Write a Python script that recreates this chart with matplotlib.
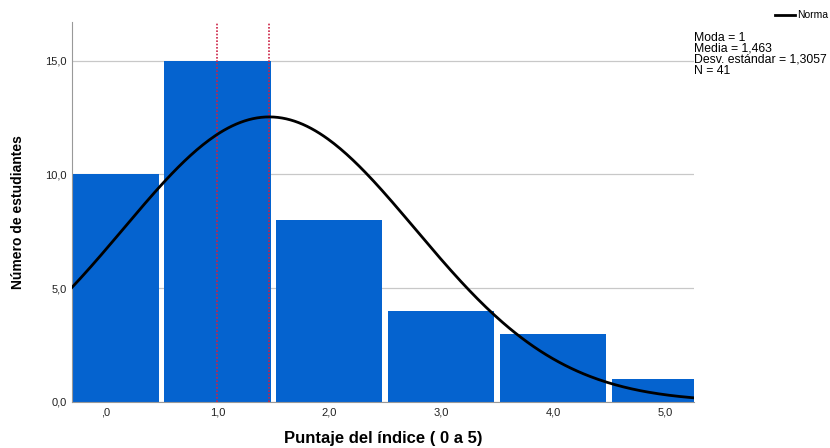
import numpy as np
import matplotlib.pyplot as plt

# histogram data (puntaje 0..5)
scores = [0, 1, 2, 3, 4, 5]
counts = [10, 15, 8, 4, 3, 1]
moda = 1
media = 1.463
desv = 1.3057
n = 41

xticks = [0, 1, 2, 3, 4, 5]
xtick_labels = [",0", "1,0", "2,0", "3,0", "4,0", "5,0"]
yticks = [0, 5, 10, 15]
ytick_labels = ["0,0", "5,0", "10,0", "15,0"]

plt.rcParams['font.family'] = ['Liberation Sans', 'DejaVu Sans']

fig = plt.figure(figsize=(8.3, 4.48), dpi=100)
ax = fig.add_axes([0.0867, 0.1027, 0.7495, 0.8483])

ax.bar(scores, counts, width=0.95, color='#0563cf', linewidth=0, zorder=2)

xs = np.linspace(-0.3, 5.26, 300)
ys = n * 1.0 / (desv * np.sqrt(2 * np.pi)) * np.exp(-0.5 * ((xs - media) / desv) ** 2)
ax.plot(xs, ys, color='black', linewidth=2, zorder=4)

for v in [moda, media]:
    ax.axvline(v, color='#cc2244', linestyle=(0, (1, 1)), linewidth=1.2, zorder=3)

ax.set_xlim(-0.3, 5.26)
ax.set_ylim(0, 16.7)
ax.set_xticks(xticks)
ax.set_xticklabels(xtick_labels, fontsize=8)
ax.set_yticks(yticks)
ax.set_yticklabels(ytick_labels, fontsize=8)
ax.tick_params(axis='x', length=0, pad=4, colors='#222222')
ax.tick_params(axis='y', length=0, pad=4, colors='#222222')
ax.yaxis.grid(True, color='#c8c8c8', linewidth=0.9, zorder=0)
ax.set_axisbelow(True)
for s in ['top', 'right']:
    ax.spines[s].set_visible(False)
for s in ['left', 'bottom']:
    ax.spines[s].set_color('#999999')

ax.set_xlabel("Puntaje del índice ( 0 a 5)", fontsize=12, fontweight='bold', labelpad=10)
ax.set_ylabel("Número de estudiantes", fontsize=10, fontweight='bold', labelpad=14)

# legend and stats box
fig.lines.append(plt.Line2D([775 / 830, 795 / 830], [1 - 15 / 448, 1 - 15 / 448],
                            transform=fig.transFigure, color='black', linewidth=2))
fig.text(797 / 830, 1 - 15 / 448, "Norma", fontsize=7.5, va='center', ha='left')
stats = f"Moda = {moda}\nMedia = 1,463\nDesv. estándar = 1,3057\nN = {n}"
fig.text(694 / 830, 1 - 32 / 448, stats, fontsize=8.8, va='top', ha='left', linespacing=0.88)

fig.savefig("out.png", dpi=100)
